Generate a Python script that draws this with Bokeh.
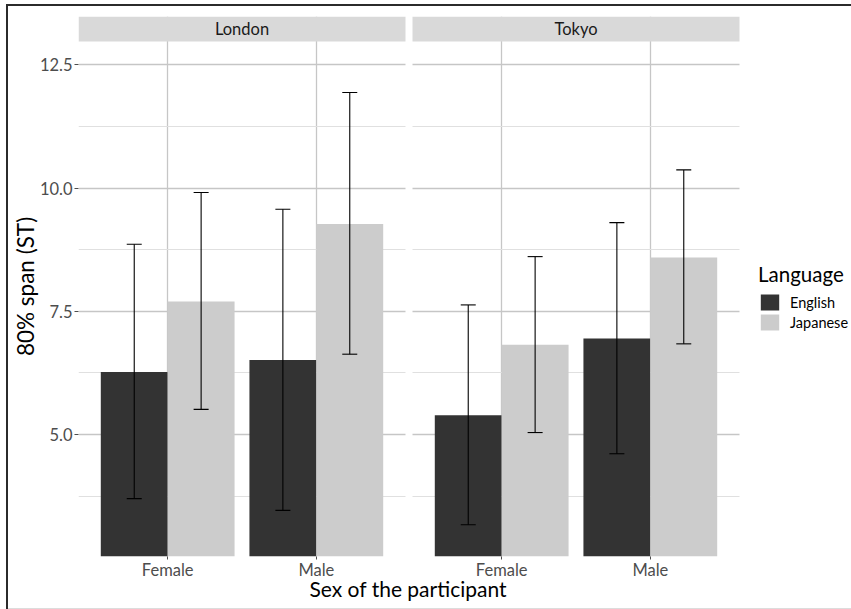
from bokeh.plotting import figure
from bokeh.models import (FixedTicker, Whisker, TeeHead, ColumnDataSource, Legend,
                          LegendItem, Range1d, Title)
from bokeh.embed import file_html
from bokeh.resources import INLINE
from bokeh.core.properties import value

# ---------------- data ----------------
cities = ["London", "Tokyo"]
sexes = ["Female", "Male"]
languages = ["English", "Japanese"]

# mean 80% span (ST), ordered Female, Male
london_english = [6.27, 6.51]
london_japanese = [7.70, 9.27]
tokyo_english = [5.39, 6.95]
tokyo_japanese = [6.82, 8.59]

# error bar limits, ordered Female, Male
london_english_lo = [3.70, 3.46]
london_english_hi = [8.86, 9.57]
london_japanese_lo = [5.51, 6.63]
london_japanese_hi = [9.91, 11.94]
tokyo_english_lo = [3.17, 4.61]
tokyo_english_hi = [7.63, 9.30]
tokyo_japanese_lo = [5.04, 6.84]
tokyo_japanese_hi = [8.61, 10.37]

y_ticks = [5.0, 7.5, 10.0, 12.5]
y_limits = [3.0, 12.5]

# ---------------- layout constants ----------------
FONT = "Lato"
W, H = 851, 609
BL, BR, BT, BB = 78, 0, 16, 53
frame_w = W - BL - BR
frame_h = H - BT - BB
panels_px = 661          # width of both facet panels incl. gap
gap_px = 7
strip_px = 25

n = len(sexes)
panel_units = n + 0.2            # discrete expansion 0.6 each side
ppu_x = (panels_px - gap_px) / (2 * panel_units)
gap_u = gap_px / ppu_x
city_offset = [i * (panel_units + gap_u) for i in range(len(cities))]
x0 = 0.4
x_panels_end = x0 + 2 * panel_units + gap_u
x1 = x0 + frame_w / ppu_x

span = y_limits[1] - y_limits[0]
y0 = y_limits[0] - 0.05 * span
y_panel_top = y_limits[1] + 0.05 * span
ppu_y = (frame_h - strip_px) / (y_panel_top - y0)
y1 = y_panel_top + strip_px / ppu_y

bar_w = 0.45

values = {
    "English": {"London": (london_english, london_english_lo, london_english_hi),
                "Tokyo": (tokyo_english, tokyo_english_lo, tokyo_english_hi)},
    "Japanese": {"London": (london_japanese, london_japanese_lo, london_japanese_hi),
                 "Tokyo": (tokyo_japanese, tokyo_japanese_lo, tokyo_japanese_hi)},
}
colors = {"English": "#333333", "Japanese": "#CCCCCC"}
dodge = {"English": -bar_w / 2, "Japanese": bar_w / 2}

p = figure(width=W, height=H, x_range=Range1d(x0, x1), y_range=Range1d(y0, y1),
           output_backend="svg", toolbar_location=None,
           min_border_left=BL, min_border_right=BR, min_border_top=BT, min_border_bottom=BB)
p.outline_line_color = None
p.background_fill_color = "white"
p.border_fill_alpha = 0
p.styles = {"box-shadow": "inset 6px 4px 0 0 #ffffff, inset 8px 6px 0 0 #2b2b2b, "
                          "inset 0 -1px 0 0 #dcdcdc",
            "background-color": "white"}

renderers = {}
for lang in languages:
    xs, tops, los, his = [], [], [], []
    for ci, city in enumerate(cities):
        m, lo, hi = values[lang][city]
        for si in range(n):
            xs.append(city_offset[ci] + si + 1 + dodge[lang])
            tops.append(m[si])
            los.append(lo[si])
            his.append(hi[si])
    src = ColumnDataSource(dict(x=xs, top=tops, lo=los, hi=his))
    r = p.vbar(x="x", top="top", bottom=0, width=bar_w, source=src,
               fill_color=colors[lang], line_color=None)
    renderers[lang] = r
    wk = Whisker(source=src, base="x", upper="hi", lower="lo", line_color="black",
                 line_width=1.1, level="overlay",
                 upper_head=TeeHead(size=15, line_color="black", line_width=1.1),
                 lower_head=TeeHead(size=15, line_color="black", line_width=1.1))
    p.add_layout(wk)

# panel gap, area right of the panels, and facet strips
p.quad(left=[x0 + panel_units, x_panels_end], right=[x0 + panel_units + gap_u, x1],
       bottom=[y0, y0], top=[y1, y1], fill_color="white", line_color=None)
p.quad(left=[o + x0 for o in city_offset], right=[o + x0 + panel_units for o in city_offset],
       bottom=y_panel_top, top=y1, fill_color="#D9D9D9", line_color=None)
p.text(x=[o + x0 + panel_units / 2 for o in city_offset], y=[(y_panel_top + y1) / 2] * len(cities),
       text=cities, text_align="center", text_baseline="middle",
       text_font=value(FONT), text_font_size="16.5px", text_color="#1A1A1A")

# axes
x_ticks = [city_offset[ci] + si + 1 for ci in range(len(cities)) for si in range(n)]
p.xaxis.ticker = FixedTicker(ticks=x_ticks)
p.xgrid.ticker = FixedTicker(ticks=x_ticks)
p.xaxis.major_label_overrides = {x_ticks[ci * n + si]: sexes[si]
                                 for ci in range(len(cities)) for si in range(n)}
minor_y = [t - 1.25 for t in y_ticks]
p.yaxis.ticker = FixedTicker(ticks=y_ticks, minor_ticks=minor_y)
p.ygrid.ticker = FixedTicker(ticks=y_ticks, minor_ticks=minor_y)
p.yaxis.major_label_overrides = {t: f"{t:.1f}" for t in y_ticks}

for ax in (p.xaxis[0], p.yaxis[0]):
    ax.axis_line_color = None
    ax.major_tick_line_color = "#4D4D4D"
    ax.major_tick_out = 4
    ax.major_tick_in = 0
    ax.minor_tick_line_color = None
    ax.major_label_text_font = FONT
    ax.major_label_text_font_size = "16.5px"
    ax.major_label_text_color = "#4D4D4D"
    ax.axis_label_text_font = FONT
    ax.axis_label_text_font_style = "normal"
    ax.axis_label_text_color = "black"

p.yaxis.axis_label = "80% span (ST)"
p.yaxis.axis_label_text_font_size = "22.5px"
p.xaxis.major_tick_out = 3
p.xaxis.major_label_standoff = 0
p.xaxis.axis_label_standoff = 0
p.yaxis.major_label_standoff = 2
p.yaxis.axis_label_standoff = -2

# x-axis title, centred under the two facet panels
x_title_text = "Sex of the participant"
x_title = Title(text=x_title_text, align="left", offset=231, vertical_align="top",
                standoff=-13, text_font=FONT, text_font_size="21px",
                text_font_style="normal", text_color="black")
p.add_layout(x_title, "below")

p.xgrid.grid_line_color = "#C6C6C6"
p.xgrid.grid_line_width = 1.3
p.ygrid.grid_line_color = "#C6C6C6"
p.ygrid.grid_line_width = 1.3
p.ygrid.minor_grid_line_color = "#E0E0E0"
p.ygrid.minor_grid_line_width = 1.0

legend = Legend(items=[LegendItem(label=l, renderers=[renderers[l]]) for l in languages],
                title="Language", location=(680, 224), orientation="vertical",
                padding=0, margin=0, border_line_color=None, background_fill_alpha=0,
                glyph_width=23, glyph_height=20, label_height=20, label_standoff=9,
                spacing=0, title_standoff=6)
legend.label_text_font = FONT
legend.label_text_font_size = "14.5px"
legend.label_text_color = "black"
legend.title_text_font = FONT
legend.title_text_font_size = "20.5px"
legend.title_text_font_style = "normal"
legend.title_text_color = "black"
p.add_layout(legend, "center")

open("out.html", "w").write(file_html(p, INLINE))
